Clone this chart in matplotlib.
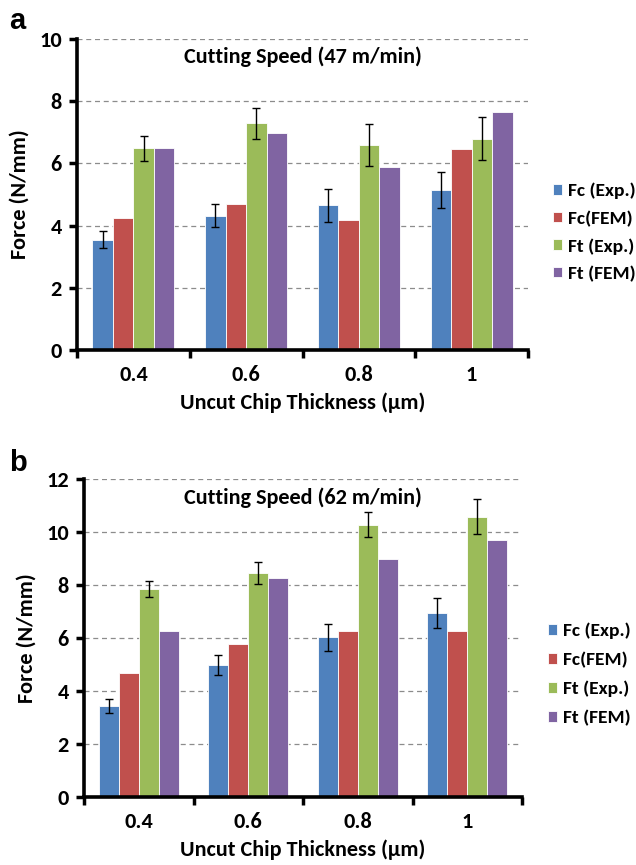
import matplotlib
matplotlib.use("Agg")
import matplotlib.pyplot as plt
import numpy as np

categories = ["0.4", "0.6", "0.8", "1"]
series_names = ["Fc (Exp.)", "Fc(FEM)", "Ft (Exp.)", "Ft (FEM)"]
colors = ["#4F81BD", "#C0504D", "#9BBB59", "#8064A2"]

# Panel a: cutting speed 47 m/min
a_fc_exp = [3.55, 4.31, 4.65, 5.15]
a_fc_exp_err = [0.28, 0.37, 0.52, 0.58]
a_fc_fem = [4.23, 4.68, 4.18, 6.46]
a_ft_exp = [6.48, 7.29, 6.59, 6.80]
a_ft_exp_err = [0.40, 0.50, 0.68, 0.70]
a_ft_fem = [6.48, 6.97, 5.89, 7.65]

# Panel b: cutting speed 62 m/min
b_fc_exp = [3.44, 4.97, 6.03, 6.95]
b_fc_exp_err = [0.28, 0.38, 0.52, 0.58]
b_fc_fem = [4.67, 5.78, 6.28, 6.26]
b_ft_exp = [7.86, 8.46, 10.29, 10.59]
b_ft_exp_err = [0.31, 0.40, 0.48, 0.67]
b_ft_fem = [6.28, 8.26, 8.99, 9.70]

W, H = 636, 865
plt.rcParams['font.family'] = ['Carlito', 'DejaVu Sans']
plt.rcParams['font.weight'] = 'bold'
fig = plt.figure(figsize=(W / 100, H / 100), dpi=100)

FS = 16
LFS = 14


def panel(rect, vals, errs, ymax, title, legend_x, legend_y, lspace, letter, letter_xy):
    ax = fig.add_axes(rect)
    n = len(categories)
    x = np.arange(n)
    bw = 1.0 / 5.5
    offsets = (np.arange(4) - 1.5) * bw
    for i, (v, e) in enumerate(zip(vals, errs)):
        ax.bar(x + offsets[i], v, width=bw, color=colors[i], edgecolor='white',
               linewidth=0.6, label=series_names[i], zorder=2)
        if e is not None:
            ax.errorbar(x + offsets[i], v, yerr=e, fmt='none', ecolor='black',
                        elinewidth=1.0, capsize=3, capthick=1.0, zorder=3)
    ax.set_xlim(-0.5, n - 0.5)
    ax.set_ylim(0, ymax)
    yt = np.arange(0, ymax + 0.1, 2)
    ax.set_yticks(yt)
    ax.set_yticklabels([f"{int(t)}" for t in yt], fontsize=FS, fontweight='bold')
    ax.set_xticks(x)
    ax.set_xticklabels(categories, fontsize=FS, fontweight='bold')
    ax.set_xticks(np.arange(-0.5, n, 1.0), minor=True)
    ax.tick_params(axis='x', which='major', length=0, pad=11)
    ax.tick_params(axis='x', which='minor', direction='out', length=6, width=2.5)
    ax.tick_params(axis='y', which='major', direction='out', length=6, width=2.5, pad=5)
    for s in ['top', 'right']:
        ax.spines[s].set_visible(False)
    for s in ['left', 'bottom']:
        ax.spines[s].set_linewidth(2.6)
        ax.spines[s].set_zorder(4)
    ax.yaxis.grid(True, linestyle=(0, (4, 3)), color='#8c8c8c', linewidth=0.9)
    ax.set_axisbelow(True)
    ax.set_xlabel("Uncut Chip Thickness (µm)", fontsize=FS, fontweight='bold', labelpad=5)
    ax.set_ylabel("Force (N/mm)", fontsize=FS, fontweight='bold', labelpad=7)
    ax.text(0.5, title[1], title[0], transform=ax.transAxes, ha='center', va='center',
            fontsize=FS, fontweight='bold')
    ax.legend(loc='center left', bbox_to_anchor=(legend_x, legend_y),
              bbox_transform=fig.transFigure, frameon=False,
              prop={'size': LFS, 'weight': 'bold'},
              handlelength=0.48, handleheight=0.48, handletextpad=0.3,
              labelspacing=lspace, borderpad=0, borderaxespad=0)
    fig.text(letter_xy[0], letter_xy[1], letter, fontsize=21, fontweight='bold',
             family=['Liberation Sans', 'DejaVu Sans'], ha='left', va='center')
    return ax


panel([77 / W, 1 - 350 / H, (528 - 77) / W, (350 - 39) / H],
      [a_fc_exp, a_fc_fem, a_ft_exp, a_ft_fem],
      [a_fc_exp_err, None, a_ft_exp_err, None],
      10, ("Cutting Speed (47 m/min)", 1 - 18 / 311),
      553 / W, 1 - 232.4 / H, 0.57, "a", (9 / W, 1 - 21 / H))

panel([84 / W, 1 - 797 / H, (522 - 84) / W, (797 - 479.3) / H],
      [b_fc_exp, b_fc_fem, b_ft_exp, b_ft_fem],
      [b_fc_exp_err, None, b_ft_exp_err, None],
      12, ("Cutting Speed (62 m/min)", 1 - 18.7 / 317.4),
      548 / W, 1 - 674.5 / H, 0.65, "b", (9 / W, 1 - 463 / H))

fig.savefig("out.png", dpi=100)
